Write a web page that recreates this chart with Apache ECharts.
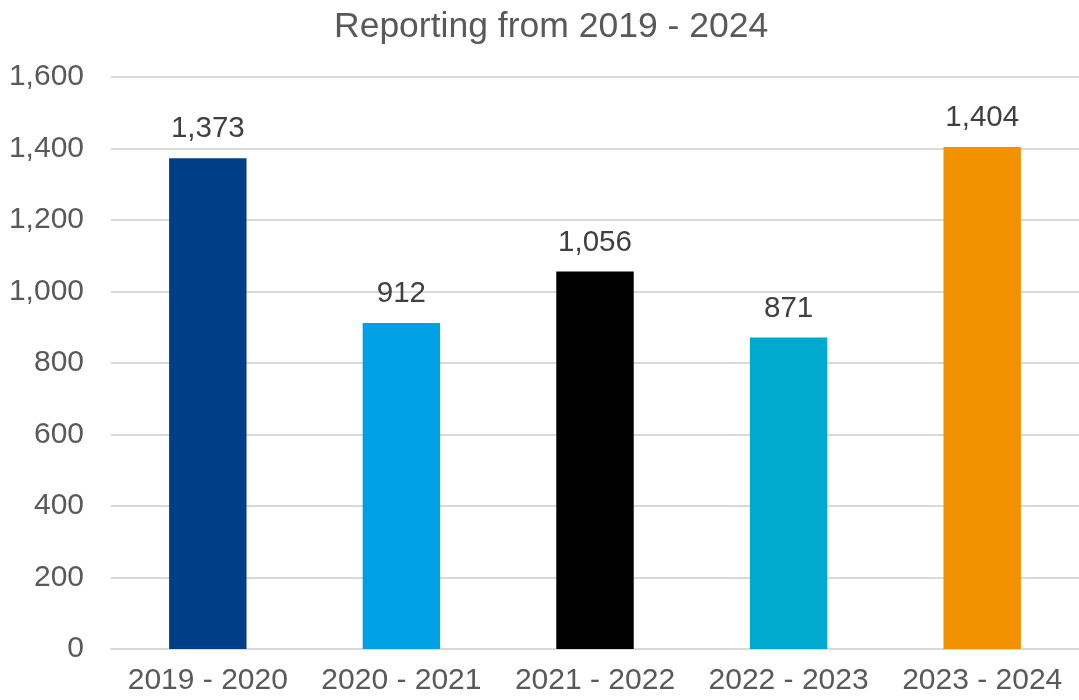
<!DOCTYPE html>
<html>
<head>
<meta charset="utf-8">
<script src="https://cdn.jsdelivr.net/npm/echarts@6/dist/echarts.min.js"></script>
<style>
html,body{margin:0;padding:0;background:#fff;}
#chart{width:1079px;height:700px;}
</style>
</head>
<body>
<div id="chart"></div>
<script>
const categories = ['2019 - 2020', '2020 - 2021', '2021 - 2022', '2022 - 2023', '2023 - 2024'];
const values = [1373, 912, 1056, 871, 1404];
const barColors = ['#003F87', '#00A0E4', '#000000', '#00A9CE', '#F39200'];
const titleText = 'Reporting from 2019 - 2024';

const FONT = '"Liberation Sans", Arial, sans-serif';
const chart = echarts.init(document.getElementById('chart'));
chart.setOption({
  backgroundColor: '#ffffff',
  animation: false,
  title: {
    text: titleText,
    left: 329,
    top: 4,
    textStyle: { color: '#595959', fontFamily: FONT, fontSize: 35.5, fontWeight: 'normal' }
  },
  grid: { left: 111, right: 0, top: 77, bottom: 51, containLabel: false },
  xAxis: {
    type: 'category',
    data: categories,
    axisLine: { show: true, lineStyle: { color: '#D9D9D9', width: 2 } },
    axisTick: { show: false },
    axisLabel: { color: '#595959', fontFamily: FONT, fontSize: 30, margin: 17, interval: 0 }
  },
  yAxis: {
    type: 'value',
    min: 0,
    max: 1600,
    interval: 200,
    axisLine: { show: false },
    axisTick: { show: false },
    splitLine: { lineStyle: { color: '#D9D9D9', width: 2 } },
    axisLabel: {
      color: '#595959', fontFamily: FONT, fontSize: 30, margin: 27,
      formatter: v => v.toLocaleString('en-US')
    }
  },
  series: [{
    type: 'bar',
    barWidth: '40%',
    data: values.map((v, i) => ({ value: v, itemStyle: { color: barColors[i] } })),
    label: {
      show: true,
      position: 'top',
      distance: 14,
      color: '#404040',
      fontFamily: FONT,
      fontSize: 29.5,
      formatter: p => p.value.toLocaleString('en-US')
    }
  }]
});
</script>
</body>
</html>
